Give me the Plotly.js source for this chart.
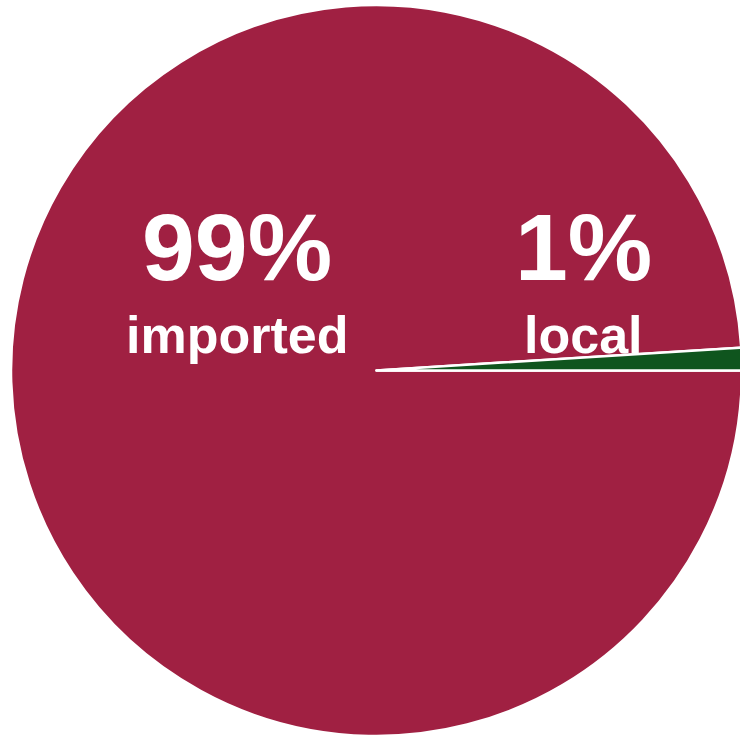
<!DOCTYPE html>
<html>
<head>
<meta charset="utf-8">
<script src="https://cdn.plot.ly/plotly-3.0.1.min.js"></script>
<style>
html,body{margin:0;padding:0;overflow:hidden;background:#fff;}
#chart{width:742px;height:739px;}
</style>
</head>
<body>
<div id="chart"></div>
<script>
const categories = ['imported', 'local'];
const shares = [99, 1];
const sliceColors = ['#A02042', '#0F551E'];

const W = 742, H = 739;
const px = x => x / W;
const py = y => 1 - y / H;

// label positions (pixels), per category
const labelX = [237, 583];
const pctY = [247, 247];
const nameY = [335, 335];

const annotations = [];
categories.forEach((c, i) => {
  annotations.push({
    xref: 'paper', yref: 'paper', x: px(labelX[i]), y: py(pctY[i]),
    xanchor: 'center', yanchor: 'middle', showarrow: false,
    text: '<b>' + shares[i] + '%</b>',
    font: {family: 'Liberation Sans, Arial, sans-serif', size: 95, color: '#ffffff'}
  });
  annotations.push({
    xref: 'paper', yref: 'paper', x: px(labelX[i]), y: py(nameY[i]),
    xanchor: 'center', yanchor: 'middle', showarrow: false,
    text: '<b>' + c + '</b>',
    font: {family: 'Liberation Sans, Arial, sans-serif', size: 52, color: '#ffffff'}
  });
});

Plotly.newPlot('chart', [{
  type: 'pie',
  labels: categories,
  values: shares,
  sort: false,
  direction: 'clockwise',
  rotation: 90,
  textinfo: 'none',
  hoverinfo: 'none',
  marker: {colors: sliceColors, line: {color: '#ffffff', width: 2.5}},
  domain: {x: [11 / W, 1], y: [3 / H, 734 / H]}
}], {
  width: W, height: H,
  margin: {l: 0, r: 0, t: 0, b: 0},
  showlegend: false,
  paper_bgcolor: '#ffffff',
  annotations: annotations
}, {staticPlot: true});
</script>
</body>
</html>
